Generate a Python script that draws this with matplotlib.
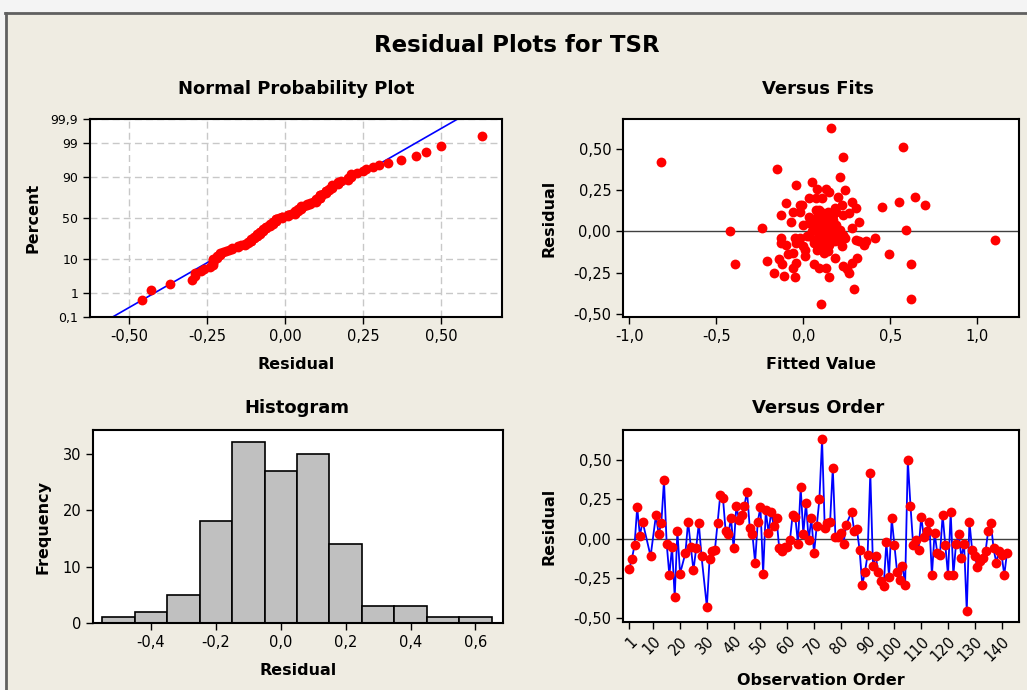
import numpy as np
import matplotlib
matplotlib.use("Agg")
import matplotlib.pyplot as plt
from matplotlib.patches import Rectangle
from matplotlib.lines import Line2D
from statistics import NormalDist

plt.rcParams['font.family'] = ['DejaVu Sans']
plt.rcParams['axes.unicode_minus'] = False

# residuals in observation order (None = row not in the fit)
resid = [-0.19, -0.13, -0.04, 0.20, 0.02, 0.11, None, None, -0.11, None,
         0.15, 0.03, 0.10, 0.37, -0.03, -0.23, -0.05, -0.37, 0.05, -0.22,
         None, -0.09, 0.11, -0.05, -0.20, -0.06, 0.10, -0.11, None, -0.43,
         -0.13, -0.08, -0.07, 0.10, 0.28, 0.26, 0.05,
         0.03, 0.13, -0.06, 0.21, 0.12, 0.15, 0.21, 0.30, 0.07, 0.03,
         -0.15, 0.11, 0.20, -0.22, 0.18, 0.04, 0.17, 0.08, 0.13, -0.06,
         -0.08, -0.05, -0.05, -0.01, 0.15, 0.14, -0.03, 0.33, 0.03, 0.23,
         -0.01, 0.13, -0.09, 0.08, 0.25, 0.63, 0.07, 0.10, 0.11, 0.45,
         0.01, 0.01, 0.04, -0.03, 0.09, None,
         0.17, 0.05, 0.06, -0.07, -0.29, -0.21, -0.10, 0.42, -0.17, -0.11,
         -0.21, -0.27, -0.30, -0.02, -0.24, 0.13, -0.04, -0.21, -0.26, -0.17,
         -0.29, 0.50, 0.21, -0.04, -0.01, -0.07, 0.14, 0.01, 0.05, 0.11,
         -0.23, 0.04, -0.09, -0.10, 0.15, -0.04, -0.23, 0.17, -0.23, -0.03,
         0.03, -0.12, -0.03, -0.46, 0.11, -0.07, -0.11, -0.18, -0.14, -0.12,
         -0.08, 0.05, 0.10, -0.06, -0.15, -0.08, -0.10, -0.23, -0.09]

# versus fits panel: fitted value / residual pairs
fitted = [-0.82, 0.16, 0.57, 0.23, -0.15, 0.21, 0.05, -0.04, 0.08, 0.13,
          0.15, 0.24, 0.64, 0.70, 0.55, 0.45, 0.20, 0.03, 0.07, 0.11,
          0.28, -0.10, -0.02, -0.01, 0.22, 0.30, 0.07, 0.09, 0.18, -0.06,
          -0.02, -0.13, 0.23, 0.26, 0.11, 0.15, -0.07, 0.32, 0.00, 0.03,
          0.06, 0.08, 0.11, 0.13, 0.17, 0.19, 0.28, -0.24, -0.42, 0.59,
          1.10, 0.07, 0.10, 0.13, 0.16, 0.09, 0.12, 0.15, 0.03, 0.06,
          0.23, 0.21, 0.24, 0.30, 0.32, 0.36, 0.35, 0.41, -0.13, -0.13,
          -0.05, -0.02, -0.10, 0.02, 0.06, 0.08, 0.11, 0.13, 0.15, 0.18,
          0.20, 0.22, 0.00, 0.12, 0.01, -0.09, -0.06, 0.01, 0.18, 0.31,
          0.49, -0.14, -0.12, -0.21, -0.04, -0.06, 0.06, 0.09, 0.13, 0.23,
          0.25, 0.28, 0.26, -0.39, 0.62, -0.17, -0.11, -0.05, 0.15, 0.29,
          0.62, 0.10,
          0.09, 0.12, 0.14, 0.10, 0.08, 0.17, 0.12, 0.14, 0.10, 0.11,
          0.14, 0.09, 0.17, 0.19, 0.21, 0.05, 0.08, 0.14, 0.10, 0.16,
          -0.04, 0.03, 0.19, 0.12]
fit_resid = [0.42, 0.63, 0.51, 0.45, 0.38, 0.33, 0.30, 0.28, 0.26, 0.26,
             0.24, 0.25, 0.21, 0.16, 0.18, 0.15, 0.21, 0.20, 0.20, 0.20,
             0.18, 0.17, 0.16, 0.16, 0.16, 0.14, 0.13, 0.13, 0.14, 0.12,
             0.12, 0.10, 0.10, 0.11, 0.10, 0.09, 0.06, 0.06, 0.04, 0.05,
             0.05, 0.04, 0.07, 0.05, 0.07, 0.04, 0.02, 0.02, 0.00, 0.01,
             -0.05, 0.01, 0.02, 0.00, 0.01, -0.02, -0.03, -0.02, -0.03, -0.05,
             -0.02, -0.04, -0.04, -0.05, -0.06, -0.06, -0.08, -0.04, -0.04, -0.07,
             -0.04, -0.04, -0.08, -0.03, -0.07, -0.08, -0.06, -0.09, -0.08, -0.06,
             -0.05, -0.09, -0.09, -0.11, -0.11, -0.14, -0.13, -0.15, -0.16, -0.16,
             -0.14, -0.17, -0.20, -0.18, -0.19, -0.22, -0.20, -0.22, -0.22, -0.21,
             -0.23, -0.19, -0.25, -0.20, -0.20, -0.25, -0.27, -0.28, -0.28, -0.35,
             -0.41, -0.44,
             0.07, 0.08, 0.12, 0.12, 0.09, 0.10, 0.03, 0.04, -0.01, 0.01,
             -0.04, -0.05, -0.03, -0.01, 0.01, 0.00, -0.11, -0.12, -0.09, -0.05,
             -0.07, 0.09, 0.12, -0.13]

# histogram bins (mid points) and counts
bin_mid = [-0.5, -0.4, -0.3, -0.2, -0.1, 0.0, 0.1, 0.2, 0.3, 0.4, 0.5, 0.6]
freq = [1, 2, 5, 18, 32, 27, 30, 14, 3, 3, 1, 1]

pct_ticks = [0.1, 1, 10, 50, 90, 99, 99.9]
pct_labels = ['0,1', '1', '10', '50', '90', '99', '99,9']
order_ticks = [1, 10, 20, 30, 40, 50, 60, 70, 80, 90, 100, 110, 120, 130, 140]

BG = '#EFECE2'
RED = '#FF0000'
BLUE = '#0000FF'
MS = 50  # marker area

def comma(fmt):
    return lambda v, p: (fmt % v).replace('.', ',')

def style(ax):
    ax.set_facecolor('white')
    for s in ax.spines.values():
        s.set_linewidth(1.5)
        s.set_color('black')
    ax.tick_params(direction='out', length=5, width=1, labelsize=10.5, colors='black')

fig = plt.figure(figsize=(10.27, 6.9), dpi=100, facecolor=BG)
W, H = 1027, 690

# window frame
fig.patches.append(Rectangle((0, 1 - 12 / H), 1, 12 / H, transform=fig.transFigure,
                             facecolor='#F4F4F4', edgecolor='none'))
fig.patches.append(Rectangle((0, 0), 5 / W, 1, transform=fig.transFigure,
                             facecolor='#F4F4F4', edgecolor='none'))
fig.lines.append(Line2D([5 / W, 1], [1 - 13 / H, 1 - 13 / H], transform=fig.transFigure,
                        color='#606060', lw=2))
fig.lines.append(Line2D([6 / W, 6 / W], [0, 1 - 13 / H], transform=fig.transFigure,
                        color='#606060', lw=2))

def box(l, t, r, b):
    return fig.add_axes([l / W, 1 - b / H, (r - l) / W, (b - t) / H])

ax1 = box(90, 119, 502, 317)
ax2 = box(623, 119, 1019, 317)
ax3 = box(93, 430, 503, 623)
ax4 = box(623, 430, 1019, 622)
for a in (ax1, ax2, ax3, ax4):
    style(a)

fig.text(517 / W, 1 - 45 / H, 'Residual Plots for TSR', ha='center', va='center',
         fontsize=16.5, fontweight='bold')
for x, y, t in [(296, 89, 'Normal Probability Plot'), (818, 89, 'Versus Fits'),
                (297, 408, 'Histogram'), (818, 408, 'Versus Order')]:
    fig.text(x / W, 1 - y / H, t, ha='center', va='center', fontsize=13, fontweight='bold')

LAB = dict(fontsize=11.5, fontweight='bold')

# normal probability plot
nd = NormalDist()
r = np.array([v for v in resid if v is not None])
rs = np.sort(r)
n = len(rs)
z_pts = [nd.inv_cdf((i - 0.3) / (n + 0.4)) for i in range(1, n + 1)]
mu, sd = rs.mean(), rs.std(ddof=1)
xl = np.array([-0.7, 0.75])
ax1.plot(xl, (xl - mu) / sd, color=BLUE, lw=1.2, zorder=2)
ax1.scatter(rs, z_pts, s=MS, color=RED, zorder=3, linewidths=0)
ax1.set_xlim(-0.625, 0.694)
ax1.set_ylim(nd.inv_cdf(0.001), nd.inv_cdf(0.999))
ax1.set_yticks([nd.inv_cdf(p / 100) for p in pct_ticks])
ax1.set_yticklabels(pct_labels, fontsize=9)
ax1.set_xticks([-0.5, -0.25, 0, 0.25, 0.5])
ax1.xaxis.set_major_formatter(comma('%.2f'))
ax1.grid(True, color='#C8C8C8', linestyle=(0, (5, 3)), lw=1)
ax1.set_axisbelow(True)
ax1.set_xlabel('Residual', **LAB)
ax1.set_ylabel('Percent', **LAB)
ax1.xaxis.set_label_coords(0.5, -0.2)
ax1.yaxis.set_label_coords(-0.12, 0.5)

# versus fits
ax2.axhline(0, color='#404040', lw=1, zorder=1)
ax2.scatter(fitted, fit_resid, s=MS, color=RED, zorder=3, linewidths=0)
ax2.set_xlim(-1.036, 1.239)
ax2.set_ylim(-0.52, 0.683)
ax2.set_xticks([-1.0, -0.5, 0, 0.5, 1.0])
ax2.set_yticks([-0.5, -0.25, 0, 0.25, 0.5])
ax2.xaxis.set_major_formatter(comma('%.1f'))
ax2.yaxis.set_major_formatter(comma('%.2f'))
ax2.set_xlabel('Fitted Value', **LAB)
ax2.set_ylabel('Residual', **LAB)
ax2.xaxis.set_label_coords(0.5, -0.2)
ax2.yaxis.set_label_coords(-0.168, 0.5)

# histogram
ax3.bar(bin_mid, freq, width=0.1, color='#C0C0C0', edgecolor='black', linewidth=1.2)
ax3.set_xlim(-0.579, 0.685)
ax3.set_ylim(0, 34.2)
ax3.set_xticks([-0.4, -0.2, 0, 0.2, 0.4, 0.6])
ax3.set_yticks([0, 10, 20, 30])
ax3.xaxis.set_major_formatter(comma('%.1f'))
ax3.set_xlabel('Residual', **LAB)
ax3.set_ylabel('Frequency', **LAB)
ax3.xaxis.set_label_coords(0.5, -0.205)
ax3.yaxis.set_label_coords(-0.104, 0.5)

# versus order
obs = np.arange(1, len(resid) + 1)
ok = np.array([v is not None for v in resid])
ro = np.array([v if v is not None else np.nan for v in resid], dtype=float)
ax4.axhline(0, color='#404040', lw=1, zorder=1)
ax4.plot(obs[ok], ro[ok], color=BLUE, lw=1.3, zorder=2)
ax4.scatter(obs[ok], ro[ok], s=MS, color=RED, zorder=3, linewidths=0)
ax4.set_xlim(-1.3, 146.5)
ax4.set_ylim(-0.527, 0.69)
ax4.set_xticks(order_ticks)
ax4.set_xticklabels([str(t) for t in order_ticks], rotation=45, ha='right',
                    rotation_mode='anchor', fontsize=10.5)
ax4.set_yticks([-0.5, -0.25, 0, 0.25, 0.5])
ax4.yaxis.set_major_formatter(comma('%.2f'))
ax4.set_xlabel('Observation Order', **LAB)
ax4.set_ylabel('Residual', **LAB)
ax4.xaxis.set_label_coords(0.5, -0.265)
ax4.yaxis.set_label_coords(-0.168, 0.5)

fig.savefig('out.png', dpi=100, facecolor=BG)
